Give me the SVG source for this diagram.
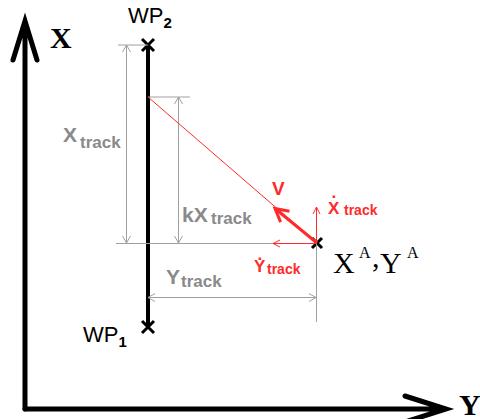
<svg xmlns="http://www.w3.org/2000/svg" width="480" height="419" viewBox="0 0 480 419">
<style>
.ax{stroke:#000;stroke-width:5;fill:none;stroke-linecap:round}
.dim{stroke:#a0a0a0;stroke-width:1;fill:none}
.red{stroke:#ff2a2a;fill:none}
.gt{font-family:"Liberation Sans",Arial,sans-serif;font-weight:bold;fill:#8a8a8a}
.rt{font-family:"Liberation Sans",Arial,sans-serif;font-weight:bold;fill:#ff2a2a}
.bt{font-family:"Liberation Sans",Arial,sans-serif;fill:#000}
.sf{font-family:"Liberation Serif","Times New Roman",serif;fill:#000}
</style>
<defs>
<marker id="ga" markerUnits="userSpaceOnUse" markerWidth="10" markerHeight="10" refX="8" refY="5" orient="auto-start-reverse"><path d="M1,1 L8,5 L1,9" fill="none" stroke="#a0a0a0" stroke-width="1"/></marker>
<marker id="ra" markerUnits="userSpaceOnUse" markerWidth="10" markerHeight="10" refX="8" refY="5" orient="auto"><path d="M1,1.5 L8,5 L1,8.5" fill="none" stroke="#ff2a2a" stroke-width="1"/></marker>
<marker id="rv" markerUnits="userSpaceOnUse" markerWidth="20" markerHeight="20" refX="16" refY="10" orient="auto"><path d="M3,3 L16,10 L3,17" fill="none" stroke="#ff2a2a" stroke-width="3"/></marker>
</defs>
<rect width="480" height="419" fill="#fff"/>
<g id="axes">
<path class="ax" d="M25,409 L25,21 M13,60 L25,21 L37,60"/>
<path class="ax" d="M25,409 L446,409 M405,396 L446,409 L405,422"/>
<text class="sf" x="50" y="48" font-size="30" font-weight="bold">X</text>
<text class="sf" x="459" y="415" font-size="30" font-weight="bold">Y</text>
</g>
<g id="track">
<line x1="148" y1="45" x2="148" y2="327" stroke="#000" stroke-width="4"/>
</g>
<g id="wp2">
<path d="M142,39 L154,51 M154,39 L142,51" stroke="#000" stroke-width="3"/>
<text class="bt" x="128" y="23" font-size="22">WP<tspan font-size="15" font-weight="bold" dy="5">2</tspan></text>
</g>
<g id="wp1">
<path d="M142,321 L154,333 M154,321 L142,333" stroke="#000" stroke-width="3"/>
<text class="bt" x="83" y="342" font-size="22">WP<tspan font-size="15" font-weight="bold" dy="5">1</tspan></text>
</g>
<g id="pointA">
<path d="M312,238 L322,248 M322,238 L312,248" stroke="#000" stroke-width="3"/>
<text class="sf" x="333" y="273" font-size="30">X</text>
<text class="sf" x="359" y="258" font-size="16">A</text>
<text class="sf" x="372" y="267" font-size="30">,</text>
<text class="sf" x="380" y="273" font-size="30">Y</text>
<text class="sf" x="407" y="258" font-size="16">A</text>
</g>
<g id="connectors">
<line class="dim" x1="118" y1="45" x2="148" y2="45"/>
<line class="dim" x1="148" y1="97" x2="190" y2="97"/>
<line class="dim" x1="116" y1="243.5" x2="316" y2="243.5"/>
<line class="dim" x1="316.5" y1="243" x2="316.5" y2="322"/>
<line class="dim" x1="126.5" y1="243" x2="126.5" y2="45" marker-start="url(#ga)" marker-end="url(#ga)"/>
<line class="dim" x1="178.5" y1="243" x2="178.5" y2="97" marker-start="url(#ga)" marker-end="url(#ga)"/>
<line class="dim" x1="148" y1="297.5" x2="316" y2="297.5" marker-start="url(#ga)" marker-end="url(#ga)"/>
<line class="red" x1="148" y1="97" x2="317" y2="243" stroke="#ff6a6a" stroke-width="1"/>
<line class="red" x1="316.5" y1="243" x2="316.5" y2="207" stroke-width="1" marker-end="url(#ra)"/>
<line class="red" x1="317" y1="243.5" x2="273" y2="243.5" stroke-width="1" marker-end="url(#ra)"/>
<line class="red" x1="317" y1="243" x2="275" y2="208.5" stroke-width="3" marker-end="url(#rv)"/>
</g>
<g id="labels">
<text class="gt" x="63" y="142" font-size="21">X<tspan x="80" y="148" font-size="17">track</tspan></text>
<text class="gt" x="182" y="222" font-size="21">kX<tspan x="211" y="224" font-size="17">track</tspan></text>
<text class="gt" x="166" y="284" font-size="21">Y<tspan x="181" y="287" font-size="17">track</tspan></text>
<text class="rt" x="272" y="195" font-size="19">V</text>
<text class="rt" x="328" y="214" font-size="17">X<tspan x="344" y="215" font-size="14">track</tspan></text>
<text class="rt" x="331.5" y="198" font-size="17">.</text>
<text class="rt" x="254" y="272" font-size="17">Y<tspan x="267" y="274" font-size="14">track</tspan></text>
<text class="rt" x="257.5" y="260" font-size="17">.</text>
</g>
</svg>
